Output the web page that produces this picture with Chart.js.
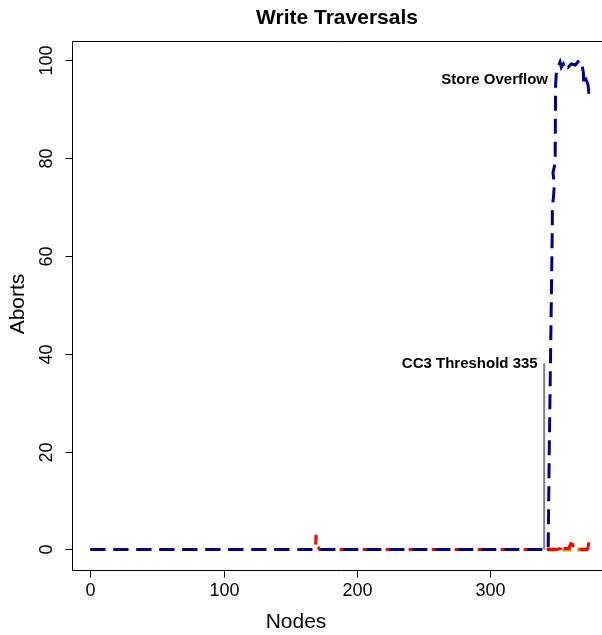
<!DOCTYPE html>
<html>
<head>
<meta charset="utf-8">
<script src="https://cdn.jsdelivr.net/npm/chart.js@4.4.1/dist/chart.umd.min.js"></script>
<style>
  html, body { margin: 0; padding: 0; background: #fff; overflow: hidden; }
  #wrap { width: 602px; height: 635px; overflow: hidden; position: relative; }
  #traversals { position: absolute; left: 0; top: 0; }
</style>
</head>
<body>
<div id="wrap"><canvas id="traversals" width="660" height="635"></canvas></div>
<script>
// data
const overflowNodes  = [0, 343.6, 344.4, 345.9, 346.7, 346.7, 347.6, 348.2, 347.2, 348.9, 348.9, 349.2, 349.6, 351, 352.5, 353.5, 355, 356.5, 357.5, 358.5, 361, 364, 367, 368.5, 370, 370.3, 372, 373.5, 374.2];
const overflowAborts = [0, 0, 20, 50, 66, 70, 72, 74.5, 77, 79, 83, 95, 97, 98.6, 99.6, 98.5, 99.2, 98.2, 98.8, 98.5, 99.2, 99, 100, 99.6, 97.5, 95, 96, 95, 93];

const spikeNodes  = [0, 169, 169.3, 169.8, 171, 172, 350, 353, 354.5, 355, 359, 360.5, 362, 362.5, 365, 366, 373, 373.5, 374.5];
const spikeAborts = [0, 0, 3, 0.6, 0.4, 0, 0, 0.2, 1, 0.2, 0.2, 1.2, 1, 0.2, 0.2, 0, 0, 0.4, 2];

const lowNodes  = [343, 374.5];
const lowAborts = [0, 0];

const thresholdNodes  = [340.6, 340.6];
const thresholdAborts = [0, 38];

const xTicks = [0, 100, 200, 300];
const yTicks = [0, 20, 40, 60, 80, 100];

function pts(xs, ys) {
  return xs.map(function(x, i) { return { x: x, y: ys[i] }; });
}

const FONT = '"Liberation Sans", Arial, Helvetica, sans-serif';

// R style frame, ticks and texts
const rAxes = {
  id: 'rAxes',
  afterDraw: function(chart) {
    const ctx = chart.ctx;
    const a = chart.chartArea;
    const xs = chart.scales.x, ys = chart.scales.y;
    const l = Math.round(a.left) + 0.5, r = Math.round(a.right) + 0.5;
    const t = Math.round(a.top) + 0.5, b = Math.round(a.bottom) + 0.5;
    ctx.save();
    ctx.strokeStyle = '#000';
    ctx.lineWidth = 1;
    ctx.beginPath();
    ctx.moveTo(r, t); ctx.lineTo(l, t); ctx.lineTo(l, b); ctx.lineTo(r, b);
    ctx.stroke();

    ctx.fillStyle = '#000';
    ctx.font = '18px ' + FONT;
    ctx.textAlign = 'center';
    ctx.textBaseline = 'middle';
    xTicks.forEach(function(v) {
      const px = Math.round(xs.getPixelForValue(v)) + 0.5;
      ctx.beginPath();
      ctx.moveTo(px, b);
      ctx.lineTo(px, b + 7);
      ctx.stroke();
      ctx.fillText(String(v), px, b + 21);
    });
    yTicks.forEach(function(v) {
      const py = Math.round(ys.getPixelForValue(v)) + 0.5;
      ctx.beginPath();
      ctx.moveTo(l, py);
      ctx.lineTo(l - 7, py);
      ctx.stroke();
      ctx.save();
      ctx.translate(l - 25, py);
      ctx.rotate(-Math.PI / 2);
      ctx.fillText(String(v), 0, 0);
      ctx.restore();
    });

    ctx.font = '21px ' + FONT;
    ctx.fillText('Nodes', 296, 622);
    ctx.save();
    ctx.translate(18, 304);
    ctx.rotate(-Math.PI / 2);
    ctx.fillText('Aborts', 0, 0);
    ctx.restore();

    ctx.font = 'bold 21px ' + FONT;
    ctx.fillText('Write Traversals', 337, 18);

    // annotations
    ctx.font = 'bold 15px ' + FONT;
    ctx.textAlign = 'right';
    ctx.fillText('CC3 Threshold 335', xs.getPixelForValue(335) + 1, ys.getPixelForValue(38));
    ctx.fillText('Store Overflow', xs.getPixelForValue(343.5), ys.getPixelForValue(96));
    ctx.restore();
  }
};

const config = {
  type: 'scatter',
  data: {
    datasets: [
      {
        label: 'overflow',
        data: pts(overflowNodes, overflowAborts),
        borderColor: '#00008B',
        borderWidth: 3,
        borderDash: [15, 8],
        showLine: true,
        pointRadius: 0,
      },
      {
        label: 'threshold',
        data: pts(thresholdNodes, thresholdAborts),
        borderColor: '#808080',
        borderWidth: 2,
        showLine: true,
        pointRadius: 0,
      },
      {
        label: 'spikes',
        data: pts(spikeNodes, spikeAborts),
        borderColor: '#FF0000',
        borderWidth: 3,
        borderDash: [15, 8],
        showLine: true,
        pointRadius: 0,
      },
      {
        label: 'low',
        data: pts(lowNodes, lowAborts),
        borderColor: '#CD950C',
        borderWidth: 4,
        borderDash: [9, 6],
        showLine: true,
        pointRadius: 0,
      }
    ]
  },
  options: {
    responsive: false,
    animation: false,
    events: [],
    layout: { padding: { left: 0, top: 40.5, right: 50, bottom: 0 } },
    plugins: { legend: { display: false }, tooltip: { enabled: false }, title: { display: false } },
    scales: {
      x: {
        type: 'linear', min: -14, max: 390,
        grid: { display: false }, border: { display: false },
        ticks: { display: false },
        afterFit: function(s) { s.height = 65.5; }
      },
      y: {
        type: 'linear', min: -4.1, max: 104,
        grid: { display: false }, border: { display: false },
        ticks: { display: false },
        afterFit: function(s) { s.width = 71.7; }
      }
    }
  },
  plugins: [rAxes]
};

new Chart(document.getElementById('traversals'), config);
</script>
</body>
</html>
